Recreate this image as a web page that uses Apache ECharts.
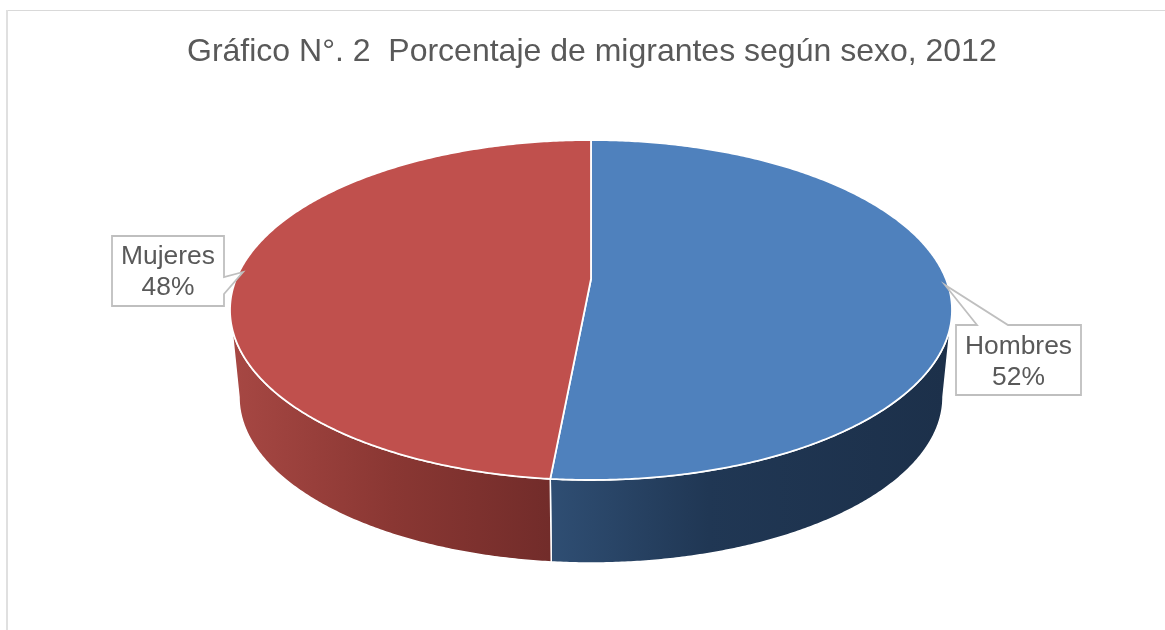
<!DOCTYPE html>
<html><head><meta charset="utf-8">
<style>html,body{margin:0;padding:0;background:#fff}#c{width:1165px;height:630px}</style>
<script src="https://cdn.jsdelivr.net/npm/echarts@6/dist/echarts.min.js"></script>
</head><body><div id="c"></div>
<script>
const titleText = 'Gráfico N°. 2  Porcentaje de migrantes según sexo, 2012';
const categories = ['Hombres', 'Mujeres'];
const values = [51.8, 48.2];
const topColors = ['#4f81bd', '#c0504d'];

// pie geometry (a tilted, extruded pie)
const TOP = {cx: 591, cy: 310, rx: 361, ry: 170, ax: 591, ay: 279};
const BOT = {cx: 591, cy: 397, rx: 352, ry: 166};
const sideStops = [
  [[0, '#2f4e73'], [0.4, '#203754'], [1, '#1c304a']],
  [[0, '#a64743'], [0.5, '#8a3733'], [1, '#722c2a']]
];
const sideRange = [[551, 945], [235, 550]];
const callouts = [
  {box: [956, 325, 125, 70], ptr: [[977, 325], [945, 285], [1008, 325]], text: [1018.5, 362]},
  {box: [112, 236, 112, 70], ptr: [[224, 277], [243, 272], [224, 294]], text: [168, 272.5]}
];

const total = values.reduce((a, b) => a + b, 0);
function sliceAngles(i) {
  let s = 0;
  for (let k = 0; k < i; k++) s += values[k];
  return [s / total * 360, (s + values[i]) / total * 360];
}
function pt(e, deg) {
  const r = deg * Math.PI / 180;
  return [e.cx + e.rx * Math.sin(r), e.cy - e.ry * Math.cos(r)];
}
function arc(e, a, b) {
  const n = Math.max(2, Math.ceil(Math.abs(b - a) * 2)), out = [];
  for (let j = 0; j <= n; j++) out.push(pt(e, a + (b - a) * j / n));
  return out;
}
function renderSide(params, api) {
  const i = params.dataIndex;
  let [a, b] = sliceAngles(i);
  a = Math.max(a, 90); b = Math.min(b, 270);
  if (b <= a) return {type: 'group', children: []};
  const pts = arc(TOP, a, b).concat(arc(BOT, b, a));
  return {
    type: 'polygon',
    shape: {points: pts},
    style: {
      fill: new echarts.graphic.LinearGradient(sideRange[i][0], 0, sideRange[i][1], 0,
        sideStops[i].map(s => ({offset: s[0], color: s[1]})), true),
      stroke: '#ffffff', lineWidth: 1.5
    }
  };
}
function renderTop(params, api) {
  const i = params.dataIndex;
  const [a, b] = sliceAngles(i);
  const pts = [[TOP.ax, TOP.ay]].concat(arc(TOP, a, b));
  return {
    type: 'polygon',
    shape: {points: pts},
    style: {fill: topColors[i], stroke: '#ffffff', lineWidth: 1.8, lineJoin: 'round'}
  };
}
function renderLabel(params, api) {
  const i = params.dataIndex, c = callouts[i];
  const pct = Math.round(values[i] / total * 100) + '%';
  const [x, y, w, h] = c.box;
  const corners = i === 0
    ? [[x, y], c.ptr[0], c.ptr[1], c.ptr[2], [x + w, y], [x + w, y + h], [x, y + h]]
    : [[x, y], [x + w, y], c.ptr[0], c.ptr[1], c.ptr[2], [x + w, y + h], [x, y + h]];
  return {type: 'group', children: [
    {type: 'polygon', shape: {points: corners}, style: {fill: '#ffffff', stroke: '#bfbfbf', lineWidth: 1.8}},
    {type: 'text', style: {x: c.text[0], y: c.text[1], text: categories[i] + '\n' + pct,
      fill: '#595959', font: '26.4px "Liberation Sans", Arial, sans-serif', align: 'center',
      verticalAlign: 'middle', lineHeight: 31}}
  ]};
}
const data = categories.map((n, i) => ({name: n, value: values[i]}));
const chart = echarts.init(document.getElementById('c'), null, {renderer: 'canvas'});
chart.setOption({
  animation: false,
  backgroundColor: '#ffffff',
  title: {
    text: titleText, left: 182, top: 31,
    textStyle: {color: '#595959', fontSize: 32, fontWeight: 'normal', fontFamily: '"Liberation Sans", Arial, sans-serif'}
  },
  graphic: [
    {type: 'rect', shape: {x: 6, y: 10, width: 1159, height: 1}, style: {fill: '#d9d9d9'}, silent: true},
    {type: 'rect', shape: {x: 6, y: 10, width: 2, height: 620}, style: {fill: '#e0e0e0'}, silent: true}
  ],
  series: [
    {type: 'custom', name: 'side', coordinateSystem: 'none', data, renderItem: renderSide, silent: true, z: 1},
    {type: 'custom', name: 'top', coordinateSystem: 'none', data, renderItem: renderTop, silent: true, z: 2},
    {type: 'custom', name: 'labels', coordinateSystem: 'none', data, renderItem: renderLabel, silent: true, z: 3}
  ]
});
</script></body></html>
